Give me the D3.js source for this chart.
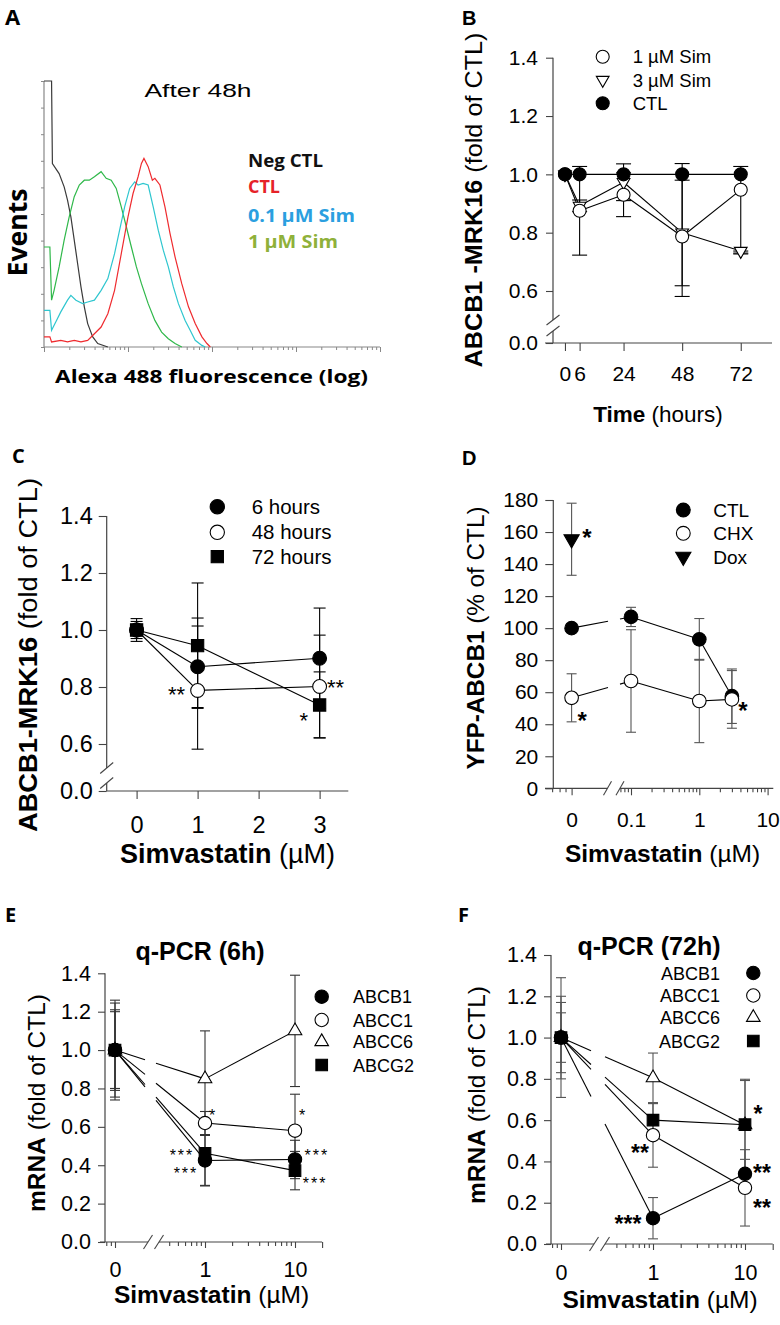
<!DOCTYPE html>
<html><head><meta charset="utf-8">
<script src="https://cdn.jsdelivr.net/npm/d3@7"></script>
<style>body{margin:0;background:#fff}svg{display:block}</style>
</head><body>
<svg id="c" width="780" height="1325"></svg>
<script>
// ================= DATA =================
// Panel A : histograms  [log10 fluorescence (decades), events (axis units 0-10)]
const histNegCtl = [[0.0,10],[0.09,10],[0.1,6.9],[0.18,6.52],[0.24,6.02],[0.28,5.52],[0.32,4.89],[0.36,4.02],[0.40,3.14],[0.44,2.26],[0.48,1.51],[0.52,0.88],[0.58,0.38],[0.64,0.13],[0.76,0]];
const histSim1 = [[0,3.76],[0.07,3.76],[0.09,1.76],[0.12,2.13],[0.18,3.01],[0.24,4.02],[0.30,4.89],[0.36,5.65],[0.42,6.09],[0.48,6.27],[0.54,6.27],[0.60,6.4],[0.68,6.59],[0.74,6.34],[0.80,6.27],[0.86,5.96],[0.92,5.27],[0.98,4.52],[1.04,3.76],[1.10,3.01],[1.16,2.38],[1.24,1.63],[1.32,1.0],[1.40,0.56],[1.48,0.31],[1.56,0.13],[1.64,0]];
const histSim01 = [[0,1.38],[0.07,1.38],[0.09,0.63],[0.14,0.94],[0.2,1.32],[0.28,1.76],[0.32,1.94],[0.38,1.76],[0.46,1.63],[0.52,1.69],[0.6,1.76],[0.68,2.13],[0.76,2.57],[0.84,3.51],[0.9,4.39],[0.96,5.27],[1.02,5.96],[1.08,6.21],[1.12,6.09],[1.18,6.15],[1.24,6.09],[1.3,5.27],[1.36,4.39],[1.42,3.64],[1.48,3.01],[1.54,2.26],[1.6,1.63],[1.68,1.0],[1.74,0.63],[1.8,0.25],[1.88,0.06],[1.92,0]];
const histCtl = [[0,0.38],[0.07,0.38],[0.09,0.19],[0.2,0.25],[0.28,0.19],[0.36,0.25],[0.44,0.19],[0.52,0.25],[0.6,0.5],[0.68,0.75],[0.76,1.25],[0.84,2.13],[0.92,3.51],[1.0,4.89],[1.06,5.77],[1.12,6.4],[1.16,6.9],[1.19,7.09],[1.24,6.78],[1.29,6.27],[1.32,6.34],[1.38,6.09],[1.44,5.27],[1.5,4.27],[1.56,3.39],[1.64,2.38],[1.72,1.51],[1.8,0.88],[1.88,0.38],[1.94,0.13],[1.98,0]];
const legendA = ["Neg CTL", "CTL", "0.1 µM Sim", "1 µM Sim"];

// Panel B
const timeB = [0, 6, 24, 48, 72];
const ctlB = [1.0, 1.0, 1.0, 1.0, 1.0];
const sim1B = [1.0, 0.875, 0.93, 0.787, 0.947];
const sim1LoB = [0, 0.152, 0.075, 0.25, 0.217];
const sim1HiB = [0, 0.152, 0.075, 0.25, 0.08];
const sim3B = [1.0, 0.892, 0.973, 0.8, 0.737];
const sim3LoB = [0, 0.02, 0.063, 0.182, 0.01];
const sim3HiB = [0, 0.02, 0.063, 0.18, 0.0];
const yTicksB = [0.0, 0.6, 0.8, 1.0, 1.2, 1.4];
const legendB = ["1 µM Sim", "3 µM Sim", "CTL"];

// Panel C
const doseC = [0, 1, 3];
const h6C = [1.0, 0.871, 0.901], h6ErrC = [0.04, 0.143, 0.176];
const h48C = [1.0, 0.788, 0.802], h48ErrC = [0.03, 0.254, 0.18];
const h72C = [1.0, 0.945, 0.737], h72ErrC = [0.02, 0.22, 0.116];
const xTicksC = [0, 1, 2, 3];
const yTicksC = [0.0, 0.6, 0.8, 1.0, 1.2, 1.4];
const legendC = ["6 hours", "48 hours", "72 hours"];
const starsC = [[0.656, 0.792, "**"], [3.26, 0.817, "**"], [2.74, 0.70, "*"]];

// Panel D  (dose 0 is drawn on a separate log segment)
const doseD = [0, 0.1, 1, 3];
const ctlD = [100, 107, 93, 57.5], ctlErrD = [0, 6, 13, 17];
const chxD = [56.5, 67, 54.5, 55.5], chxErrD = [15, 32, 26, 18];
const doxDoseD = [0], doxD = [155.5], doxErrD = [22.5];
const yTicksD = [0, 20, 40, 60, 80, 100, 120, 140, 160, 180];
const xTicksD = [0, 0.1, 1, 10];
const legendD = ["CTL", "CHX", "Dox"];
const starsD = [[0.0227, 160, "*"], [0.0192, 45.8, "*"], [4.37, 52, "*"]];

// Panel E
const doseE = [0, 1, 10];
const abcb1E = [1.0, 0.425, 0.43], abcb1ErrE = [0.2, 0.13, 0.1];
const abcc1E = [1.0, 0.62, 0.58], abcc1ErrE = [0.245, 0.06, 0.19];
const abcc6E = [1.0, 0.85, 1.1], abcc6ErrE = [0.26, 0.25, 0.29];
const abcg2E = [1.0, 0.462, 0.372], abcg2ErrE = [0.21, 0.17, 0.1];
const starsE = [[1.23, 0.677, "*"], [12.3, 0.677, "*"], [0.555, 0.468, "***"], [0.615, 0.374, "***"], [17.5, 0.468, "***"], [16.7, 0.322, "***"]];

// Panel F
const doseF = [0, 1, 10];
const abcb1F = [1.0, 0.125, 0.34], abcb1ErrF = [0.12, 0.1, 0.07];
const abcc1F = [1.0, 0.527, 0.272], abcc1ErrF = [0.17, 0.155, 0.185];
const abcc6F = [1.0, 0.805, 0.577], abcc6ErrF = [0.29, 0.12, 0.215];
const abcg2F = [1.0, 0.6, 0.578], abcg2ErrF = [0.2, 0.08, 0.22];
const starsF = [[13.8, 0.657, "*"], [0.722, 0.468, "**"], [15.3, 0.37, "**"], [15.3, 0.2, "**"], [0.535, 0.123, "***"]];

const genes = ["ABCB1", "ABCC1", "ABCC6", "ABCG2"];
const yTicksEF = [0.0, 0.2, 0.4, 0.6, 0.8, 1.0, 1.2, 1.4];
const xTicksEF = [0, 1, 10];

// ================= HELPERS =================
const svg = d3.select("#c");
const FONT = '"Liberation Sans", Arial, Helvetica, sans-serif';
const FONT2 = '"Open Sans", "Liberation Sans", sans-serif';
const AX = "#444";

function label(g, x, y, parts, o = {}) {
  const t = g.append("text")
    .attr("font-family", o.family || FONT).attr("font-size", o.size || 16)
    .attr("text-anchor", o.anchor || "start").attr("fill", o.fill || "#000");
  if (o.rotate) t.attr("transform", `translate(${x},${y}) rotate(${o.rotate})`);
  else t.attr("x", x).attr("y", y);
  if (o.len) t.attr("textLength", o.len).attr("lengthAdjust", "spacingAndGlyphs");
  if (o.ls) t.attr("letter-spacing", o.ls);
  const arr = Array.isArray(parts) ? parts : [[parts, o.weight || "normal"]];
  arr.forEach(([s, w]) => t.append("tspan").attr("font-weight", w).text(s));
  return t;
}
function styleAxis(sel, fs) {
  sel.select(".domain").remove();
  sel.selectAll(".tick line").attr("stroke", AX).attr("stroke-width", 1.1);
  sel.selectAll(".tick text").attr("font-family", FONT).attr("font-size", fs).attr("fill", "#000");
  return sel;
}
function seg(g, x1, y1, x2, y2, col = AX, w = 1.2) {
  g.append("line").attr("x1", x1).attr("y1", y1).attr("x2", x2).attr("y2", y2)
    .attr("stroke", col).attr("stroke-width", w);
}
const symType = {circle: d3.symbolCircle, square: d3.symbolSquare, triUp: d3.symbolTriangle, triDown: d3.symbolTriangle};
function marker(g, type, filled, x, y, size) {
  g.append("path").attr("d", d3.symbol().type(symType[type]).size(size)())
    .attr("transform", `translate(${x},${y})` + (type === "triDown" ? " rotate(180)" : ""))
    .attr("fill", filled ? "#000" : "#fff").attr("stroke", "#000").attr("stroke-width", 1.1);
}
function errBar(g, x, yTop, yBot, cap, col) {
  seg(g, x, yTop, x, yBot, col, 1.1);
  seg(g, x - cap / 2, yTop, x + cap / 2, yTop, col, 1.1);
  seg(g, x - cap / 2, yBot, x + cap / 2, yBot, col, 1.1);
}
const lineGen = d3.line();
function gapLine(g, pts, gap) {
  for (let i = 0; i < pts.length - 1; i++) {
    const [x0, y0] = pts[i], [x1, y1] = pts[i + 1];
    const lerp = x => y0 + (y1 - y0) * (x - x0) / (x1 - x0);
    const parts = (gap && x0 < gap[0] && x1 > gap[1])
      ? [[[x0, y0], [gap[0], lerp(gap[0])]], [[gap[1], lerp(gap[1])], [x1, y1]]]
      : [[[x0, y0], [x1, y1]]];
    parts.forEach(p => g.append("path").attr("d", lineGen(p)).attr("fill", "none")
      .attr("stroke", "#000").attr("stroke-width", 1.1));
  }
}
function series(g, xf, yf, dose, vals, o) {
  gapLine(g, dose.map((d, i) => [xf(d), yf(vals[i])]), o.gap);
}
function bars(g, xf, yf, dose, vals, lo, hi, o) {
  dose.forEach((d, i) => {
    if ((lo[i] || 0) === 0 && (hi[i] || 0) === 0) return;
    errBar(g, xf(d), yf(vals[i] + (hi[i] || 0)), yf(vals[i] - (lo[i] || 0)), o.cap, o.errCol || "#000");
  });
}
function marks(g, xf, yf, dose, vals, o) {
  dose.forEach((d, i) => marker(g, o.type, o.filled, xf(d), yf(vals[i]), o.size));
}
function slash(g, cx, cy, dx, dy) { seg(g, cx - dx, cy + dy, cx + dx, cy - dy, AX, 1.1); }
function stars(g, xf, yf, list, o) {
  list.forEach(([x, y, s]) => label(g, xf(x), yf(y) + 0.58 * o.size, s,
    {size: o.size, anchor: "middle", weight: o.weight || "normal", ls: o.ls}));
}
function logMinor(from, to) {
  const out = [];
  for (let e = from; e < to; e++) for (let k = 2; k <= 9; k++) out.push(k * Math.pow(10, e));
  return out;
}

// ================= PANEL A =================
{
  const g = svg.append("g");
  const x = d3.scaleLinear().domain([0, 4]).range([44, 380]);
  const y = d3.scaleLinear().domain([0, 10]).range([347, 81]);
  seg(g, 44, y(10), 44, y(0), "#888", 1.2);
  seg(g, 44, y(0), 380, y(0), "#888", 1.2);
  g.append("g").attr("transform", "translate(44,0)")
    .call(d3.axisLeft(y).tickValues(d3.range(0, 11)).tickSize(3).tickFormat(""))
    .call(s => { s.select(".domain").remove(); s.selectAll("line").attr("stroke", "#888"); });
  const minor = [];
  for (let d = 0; d < 4; d++) for (let k = 2; k <= 9; k++) minor.push(d + Math.log10(k));
  g.append("g").attr("transform", `translate(0,${y(0)})`)
    .call(d3.axisBottom(x).tickValues(minor).tickSize(3).tickFormat(""))
    .call(s => { s.select(".domain").remove(); s.selectAll("line").attr("stroke", "#888"); });
  g.append("g").attr("transform", `translate(0,${y(0)})`)
    .call(d3.axisBottom(x).tickValues([0, 1, 2, 3, 4]).tickSize(5).tickFormat(""))
    .call(s => { s.select(".domain").remove(); s.selectAll("line").attr("stroke", "#888"); });
  const ln = d3.line().x(d => x(d[0])).y(d => y(d[1]));
  [[histNegCtl, "#3a3a3a"], [histSim1, "#2fb84a"], [histSim01, "#2ec6cf"], [histCtl, "#ef2b2f"]]
    .forEach(([d, c]) => g.append("path").attr("d", ln(d)).attr("fill", "none").attr("stroke", c).attr("stroke-width", 1.2));
  label(g, 5, 25, "A", {family: FONT2, size: 22, weight: "bold"});
  label(g, 198, 97, "After 48h", {size: 19, anchor: "middle", len: 107});
  label(g, 27, 232.5, "Events", {family: FONT2, size: 26, weight: "bold", anchor: "middle", rotate: -90, len: 88});
  label(g, 211.5, 383, "Alexa 488 fluorescence (log)", {family: FONT2, size: 18, weight: "bold", anchor: "middle", len: 313});
  const legCols = ["#111", "#e62228", "#2b9fe0", "#8fb13a"];
  const legY = [166.7, 192.7, 221.7, 248.3], legLen = [75, 32, 107, 90];
  legendA.forEach((t, i) => label(g, 248, legY[i], t, {family: FONT2, size: 18, weight: "bold", fill: legCols[i], len: legLen[i]}));
}

// ================= PANEL B =================
{
  const g = svg.append("g");
  const x = d3.scaleLinear().domain([-4.9, 84.8]).range([553, 772]);
  const y = d3.scaleLinear().domain([0, 0.6, 1.4]).range([343, 291, 57.7]);
  seg(g, 553, y(1.4), 553, 320); seg(g, 553, 331, 553, y(0));
  slash(g, 553, 320, 6.5, 5); slash(g, 553, 331, 6.5, 5);
  seg(g, 545, y(0), 772, y(0));
  g.append("g").attr("transform", "translate(553,0)")
    .call(d3.axisLeft(y).tickValues(yTicksB).tickSize(7).tickPadding(8).tickFormat(d3.format(".1f")))
    .call(s => styleAxis(s, 21));
  g.append("g").attr("transform", `translate(0,${y(0)})`)
    .call(d3.axisBottom(x).tickValues(timeB).tickSize(8).tickPadding(15.5).tickFormat(d3.format("d")))
    .call(s => styleAxis(s, 21));
  const o1 = {cap: 15};
  series(g, x, y, timeB, ctlB, {});
  series(g, x, y, timeB, sim1B, {});
  series(g, x, y, timeB, sim3B, {});
  bars(g, x, y, timeB, sim1B, sim1LoB, sim1HiB, o1);
  bars(g, x, y, timeB, sim3B, sim3LoB, sim3HiB, o1);
  marks(g, x, y, timeB, sim3B, {type: "triDown", filled: false, size: 70});
  marks(g, x, y, timeB, sim1B, {type: "circle", filled: false, size: 133});
  marks(g, x, y, timeB, ctlB, {type: "circle", filled: true, size: 133});
  label(g, 462, 25, "B", {size: 20, weight: "bold"});
  label(g, 482, 200, [["ABCB1 -MRK16", "bold"], [" (fold of CTL)", "normal"]], {size: 24.5, anchor: "middle", rotate: -90, len: 335});
  label(g, 658, 422, [["Time", "bold"], [" (hours)", "normal"]], {size: 22.5, anchor: "middle"});
  const ly = [56.7, 80, 103.3];
  marker(g, "circle", false, 602.7, ly[0], 133);
  marker(g, "triDown", false, 602.7, ly[1], 70);
  marker(g, "circle", true, 602.7, ly[2], 133);
  legendB.forEach((t, i) => label(g, 632.7, ly[i] + 6.5, t, {size: 18.5}));
}

// ================= PANEL C =================
{
  const g = svg.append("g");
  const x = d3.scaleLinear().domain([-0.49, 3.47]).range([106.7, 348.3]);
  const y = d3.scaleLinear().domain([0, 0.6, 1.4]).range([791, 744, 516]);
  seg(g, 106.7, y(1.4), 106.7, 768); seg(g, 106.7, 783, 106.7, y(0));
  slash(g, 106.7, 768, 6.5, 5.5); slash(g, 106.7, 783, 6.5, 5.5);
  seg(g, 106.7, y(0), 348.3, y(0));
  g.append("g").attr("transform", "translate(106.7,0)")
    .call(d3.axisLeft(y).tickValues(yTicksC).tickSize(8).tickPadding(6).tickFormat(d3.format(".1f")))
    .call(s => styleAxis(s, 23.5));
  g.append("g").attr("transform", `translate(0,${y(0)})`)
    .call(d3.axisBottom(x).tickValues(xTicksC).tickSize(8).tickPadding(17).tickFormat(d3.format("d")))
    .call(s => styleAxis(s, 23.5));
  const o = {cap: 12};
  series(g, x, y, doseC, h6C, {});
  series(g, x, y, doseC, h48C, {});
  series(g, x, y, doseC, h72C, {});
  bars(g, x, y, doseC, h48C, h48ErrC, h48ErrC, o);
  bars(g, x, y, doseC, h72C, h72ErrC, h72ErrC, o);
  bars(g, x, y, doseC, h6C, h6ErrC, h6ErrC, o);
  marks(g, x, y, doseC, h48C, {type: "circle", filled: false, size: 150});
  marks(g, x, y, doseC, h72C, {type: "square", filled: true, size: 150});
  marks(g, x, y, doseC, h6C, {type: "circle", filled: true, size: 150});
  stars(g, x, y, starsC, {size: 22});
  label(g, 12, 463, "C", {family: FONT2, size: 20, weight: "bold"});
  label(g, 37, 655, [["ABCB1-MRK16", "bold"], [" (fold of CTL)", "normal"]], {size: 26.5, anchor: "middle", rotate: -90, len: 354});
  label(g, 227.5, 863, [["Simvastatin", "bold"], [" (µM)", "normal"]], {size: 27, anchor: "middle"});
  const ly = [506.7, 532.3, 556.7];
  marker(g, "circle", true, 217.3, ly[0], 160);
  marker(g, "circle", false, 217.3, ly[1], 160);
  marker(g, "square", true, 217.3, ly[2], 150);
  legendC.forEach((t, i) => label(g, 251.7, ly[i] + 7, t, {size: 20.5}));
}

// ================= PANEL D =================
{
  const g = svg.append("g");
  const xl = d3.scaleLog().domain([0.1, 10]).range([631, 767.6]);
  const ZERO = 0.0135; // plotted position of dose 0 on its own segment
  const x = d => d === 0 ? xl(ZERO) : xl(d);
  const y = d3.scaleLinear().domain([0, 180]).range([788.3, 500]);
  const Y0 = y(0);
  seg(g, 553.3, y(180), 553.3, Y0);
  seg(g, 545, Y0, 607.5, Y0); seg(g, 620, Y0, 773.3, Y0);
  slash(g, 607.5, Y0, 4, 7); slash(g, 620, Y0, 4, 7);
  g.append("g").attr("transform", "translate(553.3,0)")
    .call(d3.axisLeft(y).tickValues(yTicksD).tickSize(8).tickPadding(7).tickFormat(d3.format("d")))
    .call(s => styleAxis(s, 21));
  const minorD = [0.007, 0.009, 0.011, 0.07, 0.08, 0.09].concat(logMinor(-1, 1));
  g.append("g").attr("transform", `translate(0,${Y0})`)
    .call(d3.axisBottom(xl).tickValues(minorD).tickSize(4).tickFormat(""))
    .call(s => styleAxis(s, 20));
  g.append("g").attr("transform", `translate(0,${Y0})`)
    .call(d3.axisBottom(xl).tickValues(xTicksD.map(v => v === 0 ? ZERO : v)).tickSize(7).tickPadding(17)
      .tickFormat(v => v === ZERO ? "0" : d3.format("~g")(v)))
    .call(s => styleAxis(s, 21));
  const o = {cap: 10, errCol: "#555", gap: [608, 620]};
  series(g, x, y, doseD, ctlD, o);
  series(g, x, y, doseD, chxD, o);
  bars(g, x, y, doseD, chxD, chxErrD, chxErrD, o);
  bars(g, x, y, doseD, ctlD, ctlErrD, ctlErrD, o);
  bars(g, x, y, doxDoseD, doxD, doxErrD, doxErrD, o);
  marks(g, x, y, doseD, ctlD, {type: "circle", filled: true, size: 145});
  marks(g, x, y, doseD, chxD, {type: "circle", filled: false, size: 145});
  marks(g, x, y, doxDoseD, doxD, {type: "triDown", filled: true, size: 100});
  stars(g, xl, y, starsD, {size: 24, weight: "bold"});
  label(g, 462, 465, "D", {size: 20, weight: "bold"});
  label(g, 484, 638, [["YFP-ABCB1", "bold"], [" (% of CTL)", "normal"]], {size: 24, anchor: "middle", rotate: -90, len: 263});
  label(g, 662.5, 861.7, [["Simvastatin", "bold"], [" (µM)", "normal"]], {size: 24.5, anchor: "middle"});
  const ly = [510, 533.3, 556.7];
  marker(g, "circle", true, 683.3, ly[0], 150);
  marker(g, "circle", false, 683.3, ly[1], 150);
  marker(g, "triDown", true, 683.3, ly[2], 100);
  legendD.forEach((t, i) => label(g, 713.3, ly[i] + 6.8, t, {size: 19}));
}

// ================= PANELS E & F =================
function qpcr(cfg) {
  const g = svg.append("g");
  const xl = d3.scaleLog().domain([1, 10]).range(cfg.xr);
  const ZERO = 0.1;
  const x = d => d === 0 ? xl(ZERO) : xl(d);
  const y = d3.scaleLinear().domain([0, 1.4]).range(cfg.yr);
  const Y0 = y(0);
  seg(g, cfg.ax, y(1.4), cfg.ax, Y0);
  seg(g, cfg.ax - 5, Y0, cfg.br[0], Y0); seg(g, cfg.br[1], Y0, xl(20), Y0);
  slash(g, cfg.br[0], Y0, 4.5, 7); slash(g, cfg.br[1], Y0, 4.5, 7);
  g.append("g").attr("transform", `translate(${cfg.ax},0)`)
    .call(d3.axisLeft(y).tickValues(yTicksEF).tickSize(7).tickPadding(7).tickFormat(d3.format(".1f")))
    .call(s => styleAxis(s, 21.5));
  const minor = [0.08, 0.09, 0.4, 0.5, 0.6, 0.7, 0.8, 0.9].concat(logMinor(0, 1));
  g.append("g").attr("transform", `translate(0,${Y0})`)
    .call(d3.axisBottom(xl).tickValues(minor).tickSize(4).tickFormat(""))
    .call(s => styleAxis(s, 20));
  g.append("g").attr("transform", `translate(0,${Y0})`)
    .call(d3.axisBottom(xl).tickValues([20]).tickSize(6).tickFormat(""))
    .call(s => styleAxis(s, 20));
  g.append("g").attr("transform", `translate(0,${Y0})`)
    .call(d3.axisBottom(xl).tickValues(xTicksEF.map(v => v === 0 ? ZERO : v)).tickSize(6).tickPadding(cfg.tp)
      .tickFormat(v => v === ZERO ? "0" : d3.format("~g")(v)))
    .call(s => styleAxis(s, 21.5));
  const o = {cap: cfg.cap, errCol: cfg.errCol, gap: cfg.gap};
  const types = [["circle", true, 140], ["circle", false, 140], ["triUp", false, 80], ["square", true, 135]];
  cfg.vals.forEach(v => series(g, x, y, cfg.dose, v, o));
  cfg.vals.forEach((v, i) => bars(g, x, y, cfg.dose, v, cfg.errs[i], cfg.errs[i], o));
  [2, 1, 3, 0].forEach(i => marks(g, x, y, cfg.dose, cfg.vals[i], {type: types[i][0], filled: types[i][1], size: types[i][2]}));
  stars(g, xl, y, cfg.stars, cfg.starStyle);
  label(g, cfg.letter[0], cfg.letter[1], cfg.letter[2], {family: FONT2, size: 20, weight: "bold"});
  label(g, cfg.title[0], cfg.title[1], cfg.title[2], {size: 25, weight: "bold", anchor: "middle"});
  label(g, cfg.ylab[0], cfg.ylab[1], [["mRNA", "bold"], [" (fold of CTL)", "normal"]], {size: 24.5, anchor: "middle", rotate: -90});
  label(g, cfg.xlab[0], cfg.xlab[1], [["Simvastatin", "bold"], [" (µM)", "normal"]], {size: 24.5, anchor: "middle"});
  genes.forEach((t, i) => {
    marker(g, types[i][0], types[i][1], cfg.legM, cfg.legY[i], types[i][2]);
    label(g, cfg.legT, cfg.legY[i] + 6.5, t, {size: 18, anchor: cfg.legAnchor});
  });
}
qpcr({
  xr: [205, 295], yr: [1242, 973.3], ax: 105, br: [148, 159], gap: [145, 156], tp: 14,
  cap: 10, errCol: "#333", dose: doseE,
  vals: [abcb1E, abcc1E, abcc6E, abcg2E], errs: [abcb1ErrE, abcc1ErrE, abcc6ErrE, abcg2ErrE],
  stars: starsE, starStyle: {size: 16, ls: 2},
  letter: [5, 922, "E"], title: [200, 960, "q-PCR (6h)"], ylab: [45, 1103], xlab: [211.5, 1303],
  legM: 321.7, legT: 353, legAnchor: "start", legY: [996.7, 1020, 1041.7, 1065]
});
qpcr({
  xr: [653, 745], yr: [1244, 955], ax: 551, br: [594, 605], gap: [591, 605], tp: 15,
  cap: 10, errCol: "#555", dose: doseF,
  vals: [abcb1F, abcc1F, abcc6F, abcg2F], errs: [abcb1ErrF, abcc1ErrF, abcc6ErrF, abcg2ErrF],
  stars: starsF, starStyle: {size: 23, weight: "bold"},
  letter: [458, 922, "F"], title: [649, 955, "q-PCR (72h)"], ylab: [485, 1095], xlab: [660, 1308],
  legM: 753.3, legT: 720, legAnchor: "end", legY: [973, 995.5, 1017.5, 1041]
});
</script>
</body></html>
